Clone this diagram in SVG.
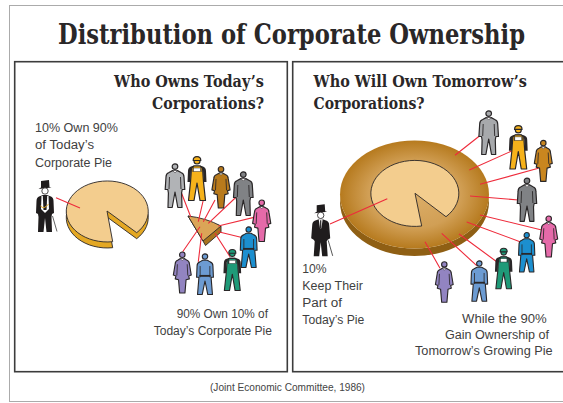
<svg xmlns="http://www.w3.org/2000/svg" width="563" height="403" viewBox="0 0 563 403">
<style>
.title{font-family:"DejaVu Serif",serif;font-weight:700;fill:#2a2728}
.head{font-size:17px}
.body{font-family:"Liberation Sans",Arial,sans-serif;font-size:13.500px;fill:#3f3f3f}
.src{font-family:"Liberation Sans",Arial,sans-serif;font-size:10px;fill:#444}
.panel{fill:#fff;stroke:#3c3c3c;stroke-width:1.6}
.link{stroke:#ee2b3b;stroke-width:1.1;fill:none}
.ink{stroke:#2a2728;stroke-width:1.2;stroke-linejoin:round}
.thin{fill:none;stroke:#2a2728;stroke-width:.9}
.pale{fill:#fff;stroke:#2a2728;stroke-width:.5}
.pie{fill:#f3cd8e;stroke:#2a2728;stroke-width:.9;stroke-linejoin:round}
</style>
<defs>
<radialGradient id="crust" cx="50%" cy="50%" r="50%">
<stop offset="0" stop-color="#dcae68"/><stop offset=".62" stop-color="#d19f55"/><stop offset="1" stop-color="#b67a1e"/>
</radialGradient>
<symbol id="man" viewBox="0 0 30 45" overflow="visible">
<circle class="ink" cx="15" cy="3.600" r="2.800"/>
<path class="ink" d="M9 9.500L12.500 7.600H17.500L21 9.500Q24 10.500 24 14L24.800 26.500H22.200L21.600 30L22 44.500H17.800L15 29L12.200 44.500H8L8.400 30L7.800 26.500H5.200L6 14Q6 10.500 9 9.500Z"/>
<path class="thin" d="M9.500 14L9 26M20.500 14L21 26"/>
<path class="pale" d="M12.700 7.600L15 10L17.300 7.600Z"/>
</symbol>
<symbol id="woman" viewBox="0 0 30 45" overflow="visible">
<circle class="ink" cx="15" cy="4" r="2.900"/>
<path class="ink" d="M10.500 9.500L13 8H17L19.500 9.500Q22.500 10.500 22.600 14L24.500 25.500L21.800 26.500L22.500 29.500L19 30.500L17.800 44.500H12.200L11 30.500L7.500 29.500L8.200 26.500L5.500 25.500L7.400 14Q7.500 10.500 10.500 9.500Z"/>
<path class="thin" d="M9.800 14L9.200 26M20.200 14L20.800 26"/>
<path class="pale" d="M13 8L15 10.300L17 8Z"/>
</symbol>
<symbol id="worker" viewBox="0 0 30 45" overflow="visible">
<circle class="ink" cx="15" cy="5" r="3"/>
<path class="ink" d="M11.200 4.500Q11.200 .6 15 .6T18.800 4.500Z"/>
<path fill="#2a2728" d="M9 10.500L12 9.500H18L21 10.500Q24 11.500 24 15L24.500 26H21.500L21 14H9L8.500 26H5.500L6 15Q6 11.500 9 10.500Z"/>
<path class="ink" d="M9.500 12L12 10H18L20.500 12L21.500 26L23.500 44.500H18L15 27L12 44.500H6.500L8.500 26Z"/>
<path class="thin" d="M11 11V16M19 11V16"/>
<rect class="pale" x="11.500" y="12" width="7" height="3.500"/>
</symbol>
<symbol id="labourer" viewBox="0 0 30 45" overflow="visible">
<circle class="ink" cx="15" cy="3.800" r="2.900"/>
<path class="ink" d="M9.500 9.500L12.500 7.800H17.500L20.500 9.500Q23.500 10.500 23.500 14L24 26H21.500L23 44.500H18L15 30L12 44.500H7L8.500 26H6L6.500 14Q6.500 10.500 9.500 9.500Z"/>
<path class="thin" d="M9.800 14V26M20.200 14V26"/>
<path d="M9 23.500H21V25.500H9Z" fill="#2a2728"/>
</symbol>
<symbol id="tophat" viewBox="0 0 30 52" overflow="visible">
<path fill="#1f1c1d" d="M11 1L19 0L19.500 7L21.500 7.500L8.500 9L11 7.500Z"/>
<circle cx="15" cy="11" r="3.200" fill="#fff" stroke="#1f1c1d" stroke-width=".8"/>
<path fill="#1f1c1d" d="M9 16.500L13 15H17L21 16.500Q23.500 17.500 23.500 21L24.500 34L22 35.500L21 37L22 52H16.500L15 38L13.500 52H8L9 37L8 35.500L5.500 34L6.500 21Q6.500 17.500 9 16.500Z"/>
<path fill="#fff" d="M13 15H17L15.700 24H14.300Z"/>
<path fill="#1f1c1d" d="M14.400 16H15.600L15.600 23L15 24L14.400 23Z"/>
<path fill="none" stroke="#555" stroke-width="1" d="M22.500 36L27 51.500"/>
</symbol>
<symbol id="tophat-vest" viewBox="0 0 30 52" overflow="visible">
<path fill="#1f1c1d" d="M11 1L19 0L19.500 7L21.500 7.500L8.500 9L11 7.500Z"/>
<circle cx="15" cy="11" r="3.200" fill="#fff" stroke="#1f1c1d" stroke-width=".8"/>
<path fill="#1f1c1d" d="M9 16.500L13 15H17L21 16.500Q23.500 17.500 23.500 21L24 33L22 34L21.500 37L22 52H16.500L15 38L13.500 52H8L8.500 37L8 34L6 33L6.500 21Q6.500 17.500 9 16.500Z"/>
<path fill="#fff" d="M11.500 16H18.500L19 29L15 33L11 29Z"/>
<path fill="#1f1c1d" d="M12.800 16H17.200L16.500 30H13.500Z"/>
<path fill="none" stroke="#e4a824" stroke-width="1" d="M10.500 26Q14 30 18.500 24"/>
<path fill="none" stroke="#666" stroke-width="1" d="M22.500 36L27 51.500"/>
</symbol>
</defs>

<rect id="frame" x="9.500" y="5.500" width="570" height="396" fill="#fff" stroke="#ababab" stroke-width="1"/>
<text class="title" transform="translate(58 44) scale(.76 1)" font-size="27" textLength="614.500" lengthAdjust="spacingAndGlyphs">Distribution of Corporate Ownership</text>

<g id="panel-left">
<rect class="panel" x="14.700" y="61.700" width="272.600" height="310"/>
<text class="title head" transform="translate(114 87) scale(.78 1)" textLength="192.300" lengthAdjust="spacingAndGlyphs">Who Owns Today’s</text>
<text class="title head" transform="translate(152 109) scale(.78 1)" textLength="143.600" lengthAdjust="spacingAndGlyphs">Corporations?</text>
<text class="body" transform="translate(35 132) scale(.9 1)" textLength="92.200" lengthAdjust="spacingAndGlyphs">10% Own 90%</text>
<text class="body" transform="translate(35 149) scale(.9 1)" textLength="65.600" lengthAdjust="spacingAndGlyphs">of Today’s</text>
<text class="body" transform="translate(35 166.700) scale(.9 1)" textLength="85.600" lengthAdjust="spacingAndGlyphs">Corporate Pie</text>
<text class="body" transform="translate(176.700 317.700) scale(.9 1)" textLength="101.400" lengthAdjust="spacingAndGlyphs">90% Own 10% of</text>
<text class="body" transform="translate(153.700 335) scale(.9 1)" textLength="131.400" lengthAdjust="spacingAndGlyphs">Today’s Corporate Pie</text>
</g>

<g id="panel-right">
<rect class="panel" x="292.700" y="61.700" width="290" height="310"/>
<text class="title head" transform="translate(313.500 86.700) scale(.78 1)" textLength="273.700" lengthAdjust="spacingAndGlyphs">Who Will Own Tomorrow’s</text>
<text class="title head" transform="translate(313.500 109) scale(.78 1)" textLength="142.300" lengthAdjust="spacingAndGlyphs">Corporations?</text>
<text class="body" transform="translate(302.300 273.300) scale(.9 1)" textLength="27.100" lengthAdjust="spacingAndGlyphs">10%</text>
<text class="body" transform="translate(302.300 290) scale(.9 1)" textLength="67.400" lengthAdjust="spacingAndGlyphs">Keep Their</text>
<text class="body" transform="translate(302.300 306.700) scale(.9 1)" textLength="44.100" lengthAdjust="spacingAndGlyphs">Part of</text>
<text class="body" transform="translate(302.300 324) scale(.9 1)" textLength="68.900" lengthAdjust="spacingAndGlyphs">Today’s Pie</text>
<text class="body" transform="translate(462 323) scale(.9 1)" textLength="94.100" lengthAdjust="spacingAndGlyphs">While the 90%</text>
<text class="body" transform="translate(445 339) scale(.9 1)" textLength="115.600" lengthAdjust="spacingAndGlyphs">Gain Ownership of</text>
<text class="body" transform="translate(415 355) scale(.9 1)" textLength="153" lengthAdjust="spacingAndGlyphs">Tomorrow’s Growing Pie</text>
</g>

<g id="pie-left">
<path d="M107 217L112.700 247.700A41 30.500 0 1 1 136.700 238.700Z" fill="#e4a824" stroke="#2a2728" stroke-width=".9" stroke-linejoin="round"/>
<path class="pie" d="M107 211L112.700 241.700A41 30.500 0 1 1 136.700 232.700Z"/>
</g>
<g id="slice-left">
<path d="M188 216L203 241L205.500 245.500L221 232L221 226Z" fill="#a8741e" stroke="#2a2728" stroke-width=".9" stroke-linejoin="round"/>
<path d="M188 216Q206 218 221 226L203 241Z" fill="#dba557" stroke="#2a2728" stroke-width=".9" stroke-linejoin="round"/>
</g>
<g id="pie-right">
<path d="M340 194.500A74.500 54 0 0 0 489 194.500V202A74.500 54 0 0 1 340 202Z" fill="#8f5f14"/>
<ellipse cx="414.500" cy="194.500" rx="74.500" ry="54" fill="url(#crust)"/>
<path class="pie" d="M415 193.300L421.700 226A44 33 0 1 1 446 216.700Z"/>
</g>

<g id="connectors">
<path class="link" d="M56 197.700L80 208"/>
<path class="link" d="M181 191.700L190.700 216.700M203.300 200L198.300 221.700M215 200L203.300 221.700M237.300 196L208.300 223.300M256.700 216.700L218.300 226M245 238.300L218.300 231.700M230 256.700L215 233.300M198.300 261.700L201.700 233.300M182.700 251.700L200 226.700"/>
<path class="link" d="M480.700 135L455 155.300M511.700 151L469.300 170M538.300 168.300L480 184.300M518.300 200L470 196M541.700 230L480 215M520 241.700L466.700 222M496.700 261.700L459 234M476.700 265.700L441.700 233.300M440 268.300L425 241.700M330 224L387.300 198.700"/>
</g>

<g id="owner-left"><use href="#tophat-vest" x="30" y="180" width="30" height="52"/></g>
<g id="l-gray" fill="#b1b3b6"><use href="#man" x="160" y="163" width="30" height="45"/></g>
<g id="l-yellow" fill="#f6b21b"><use href="#worker" x="182" y="156" width="30" height="45"/></g>
<g id="l-brown" fill="#b87a1c"><use href="#woman" x="206" y="165.500" width="30" height="43"/></g>
<g id="l-dark" fill="#808285"><use href="#man" x="228.300" y="171" width="30" height="45"/></g>
<g id="l-pink" fill="#e56aa9"><use href="#woman" x="246.700" y="199" width="30" height="43"/></g>
<g id="l-blue" fill="#1c8fcf"><use href="#labourer" x="233.700" y="226" width="30" height="42"/></g>
<g id="l-green" fill="#1f9a78"><use href="#worker" x="217.300" y="249" width="30" height="42"/></g>
<g id="l-lightblue" fill="#6c9bd2"><use href="#labourer" x="190" y="253" width="30" height="42"/></g>
<g id="l-purple" fill="#9284c1"><use href="#woman" x="167.300" y="251" width="30" height="42.500"/></g>

<g id="owner-right"><use href="#tophat" x="305.700" y="204" width="30" height="52.700"/></g>
<g id="r-gray" fill="#a7a9ac"><use href="#man" x="473.700" y="110" width="30" height="45"/></g>
<g id="r-yellow" fill="#f6b21b"><use href="#worker" x="503.300" y="125" width="30" height="44.500"/></g>
<g id="r-brown" fill="#c9861f"><use href="#woman" x="528.300" y="139.300" width="30" height="42.500"/></g>
<g id="r-dark" fill="#808285"><use href="#man" x="512" y="177.300" width="30" height="44.500"/></g>
<g id="r-pink" fill="#e56aa9"><use href="#woman" x="533.700" y="215" width="30" height="42.500"/></g>
<g id="r-blue" fill="#1c8fcf"><use href="#labourer" x="511.700" y="231.700" width="30" height="40.700"/></g>
<g id="r-green" fill="#1f9a78"><use href="#worker" x="488.700" y="247.700" width="30" height="41.500"/></g>
<g id="r-lightblue" fill="#6c9bd2"><use href="#labourer" x="464.300" y="260" width="30" height="41.700"/></g>
<g id="r-purple" fill="#9284c1"><use href="#woman" x="429.300" y="260.700" width="30" height="42"/></g>

<text class="src" x="210" y="391" textLength="155" lengthAdjust="spacingAndGlyphs">(Joint Economic Committee, 1986)</text>
</svg>
